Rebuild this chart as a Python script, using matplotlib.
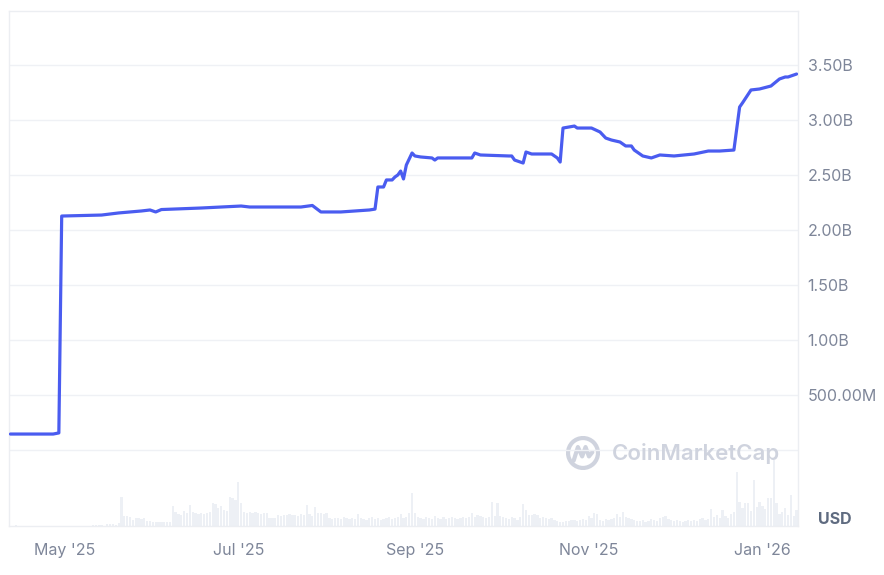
import matplotlib
matplotlib.use("Agg")
import matplotlib.pyplot as plt
import numpy as np
import pandas as pd
from matplotlib.patches import Circle

plt.rcParams['font.family'] = ['Inter', 'DejaVu Sans']

# ---- Market cap line (date, value in billions USD) ----
line_dates = [
    "2025-04-12", "2025-04-27", "2025-04-29", "2025-04-30", "2025-05-14", "2025-05-20",
    "2025-05-28", "2025-05-31", "2025-06-02", "2025-06-04", "2025-06-18", "2025-07-02",
    "2025-07-05", "2025-07-23", "2025-07-27", "2025-07-30", "2025-08-06", "2025-08-16",
    "2025-08-18", "2025-08-19", "2025-08-21", "2025-08-22", "2025-08-24", "2025-08-25",
    "2025-08-26", "2025-08-27", "2025-08-28", "2025-08-29", "2025-08-31", "2025-09-01",
    "2025-09-03", "2025-09-07", "2025-09-08", "2025-09-09", "2025-09-17", "2025-09-21",
    "2025-09-22", "2025-09-24", "2025-10-04", "2025-10-05", "2025-10-06", "2025-10-09",
    "2025-10-10", "2025-10-12", "2025-10-19", "2025-10-21", "2025-10-22", "2025-10-23",
    "2025-10-27", "2025-10-28", "2025-11-02", "2025-11-05", "2025-11-07", "2025-11-09",
    "2025-11-12", "2025-11-14", "2025-11-16", "2025-11-17", "2025-11-20", "2025-11-23",
    "2025-11-26", "2025-12-01", "2025-12-08", "2025-12-13", "2025-12-17", "2025-12-22",
    "2025-12-24", "2025-12-25", "2025-12-28", "2025-12-31", "2026-01-04", "2026-01-07",
    "2026-01-09", "2026-01-10", "2026-01-13",
]
line_values_b = [
    0.145, 0.145, 0.155, 2.127, 2.136, 2.155,
    2.173, 2.182, 2.164, 2.186, 2.200, 2.218,
    2.209, 2.209, 2.223, 2.164, 2.164, 2.182,
    2.190, 2.391, 2.391, 2.455, 2.455, 2.482,
    2.500, 2.536, 2.464, 2.591, 2.700, 2.673,
    2.664, 2.655, 2.636, 2.655, 2.655, 2.655,
    2.700, 2.682, 2.673, 2.673, 2.636, 2.609,
    2.709, 2.691, 2.691, 2.655, 2.618, 2.927,
    2.945, 2.927, 2.927, 2.891, 2.836, 2.818,
    2.800, 2.764, 2.764, 2.727, 2.673, 2.655,
    2.682, 2.673, 2.691, 2.718, 2.718, 2.727,
    3.118, 3.155, 3.273, 3.282, 3.309, 3.373,
    3.391, 3.391, 3.418,
]

# ---- Daily volume (relative units), from 2025-04-12 ----
vol_start = "2025-04-12"
volume_rel = [
    0, 0, 1, 0, 0, 0, 0, 0, 0, 0,
    0, 0, 0, 0, 0, 0, 0, 0, 0, 0,
    0, 0, 0, 0, 0, 0, 0, 0, 0, 1,
    1, 1, 1, 0, 2, 2, 2, 1, 3, 29,
    10, 10, 9, 6, 8, 8, 7, 8, 5, 5,
    4, 4, 4, 4, 4, 4, 4, 20, 14, 12,
    11, 15, 13, 21, 14, 13, 12, 13, 12, 13,
    14, 23, 22, 18, 20, 16, 15, 29, 28, 26,
    44, 23, 14, 13, 14, 13, 14, 13, 12, 13,
    13, 8, 8, 8, 11, 10, 11, 11, 12, 11,
    11, 10, 12, 11, 21, 12, 10, 19, 13, 13,
    12, 13, 8, 7, 8, 8, 7, 9, 8, 7,
    8, 7, 12, 8, 7, 6, 8, 9, 7, 8,
    6, 7, 8, 9, 7, 8, 9, 12, 8, 9,
    13, 33, 13, 9, 8, 7, 9, 8, 7, 10,
    8, 7, 9, 7, 8, 9, 8, 7, 8, 9,
    8, 9, 13, 9, 11, 10, 9, 8, 9, 24,
    10, 23, 10, 9, 8, 7, 9, 8, 6, 9,
    22, 16, 11, 11, 12, 11, 8, 9, 8, 7,
    8, 6, 5, 4, 4, 5, 5, 6, 6, 5,
    6, 7, 6, 10, 8, 13, 12, 6, 5, 7,
    6, 7, 8, 12, 9, 14, 9, 8, 7, 6,
    5, 5, 6, 4, 5, 7, 6, 5, 8, 9,
    10, 7, 6, 5, 6, 5, 4, 5, 6, 5,
    6, 5, 7, 8, 6, 7, 17, 9, 11, 8,
    16, 10, 8, 12, 14, 54, 24, 18, 23, 23,
    15, 46, 19, 24, 20, 17, 28, 28, 66, 23,
    12, 14, 18, 11, 31, 10, 16,
]

y_ticks_b = [0.5, 1.0, 1.5, 2.0, 2.5, 3.0, 3.5]
y_tick_labels = ["500.00M", "1.00B", "1.50B", "2.00B", "2.50B", "3.00B", "3.50B"]
x_ticks = ["2025-05-01", "2025-07-01", "2025-09-01", "2025-11-01", "2026-01-01"]
x_tick_labels = ["May '25", "Jul '25", "Sep '25", "Nov '25", "Jan '26"]

# ---- Figure ----
W, H = 884, 575
fig = plt.figure(figsize=(W / 100, H / 100), dpi=100)
fig.patch.set_facecolor("white")
left, right, top, bottom = 9, 798, 11, 526
ax = fig.add_axes([left / W, 1 - bottom / H, (right - left) / W, (bottom - top) / H])
axv = ax.twinx()

ld = pd.to_datetime(line_dates)
vd = pd.date_range(vol_start, periods=len(volume_rel), freq="D")

# volume bars
axv.bar(vd, volume_rel, width=0.8, color="#edf0f5", align="center", zorder=1)
axv.set_ylim(0, bottom - top)
axv.set_yticks([])
for s in axv.spines.values():
    s.set_visible(False)

# line
ax.set_zorder(axv.get_zorder() + 1)
ax.patch.set_visible(False)
ax.plot(ld, line_values_b, color="#4a5cf0", lw=2.3, solid_joinstyle="round",
        solid_capstyle="round", zorder=3)

ax.set_xlim(pd.Timestamp("2025-04-11 12:00"), pd.Timestamp("2026-01-13 12:00"))
axv.set_xlim(ax.get_xlim())
ax.set_ylim(-0.691, 3.991)

# gridlines (including zero)
for g in [0.0] + y_ticks_b:
    ax.axhline(g, color="#eff1f5", lw=1.0, zorder=0)

ax.yaxis.tick_right()
ax.set_yticks(y_ticks_b)
ax.set_yticklabels(y_tick_labels)
ax.tick_params(axis="y", length=0, pad=7, labelsize=11.5, labelcolor="#7e8699")
ax.set_xticks(pd.to_datetime(x_ticks))
ax.set_xticklabels(x_tick_labels)
ax.tick_params(axis="x", length=0, pad=12, labelsize=11.5, labelcolor="#7e8699")

for s in ax.spines.values():
    s.set_color("#eceef2")
    s.set_linewidth(1.0)

# USD label
fig.text(835 / W, 1 - 520 / H, "USD", ha="center", va="center",
         fontsize=11.5, fontweight="bold", color="#5f6b80")

# watermark
fig.text(612 / W, 1 - 454 / H, "CoinMarketCap", ha="left", va="center",
         fontsize=16, fontweight="semibold", color="#cfd3de")
logo_ax = fig.add_axes([566 / W, 1 - 470 / H, 34 / W, 34 / H])
logo_ax.set_xlim(-1, 1)
logo_ax.set_ylim(-1, 1)
logo_ax.set_aspect("equal")
logo_ax.axis("off")
logo_ax.add_patch(Circle((0, 0), 0.88, fill=False, ec="#cfd3de", lw=3.0))
mx = [-0.55, -0.3, -0.05, 0.15, 0.35, 0.55]
my = [-0.45, 0.35, -0.2, 0.35, -0.2, 0.05]
logo_ax.plot(mx, my, color="#cfd3de", lw=3.0, solid_joinstyle="round", solid_capstyle="round")

fig.savefig("out.png", dpi=100, facecolor="white")
